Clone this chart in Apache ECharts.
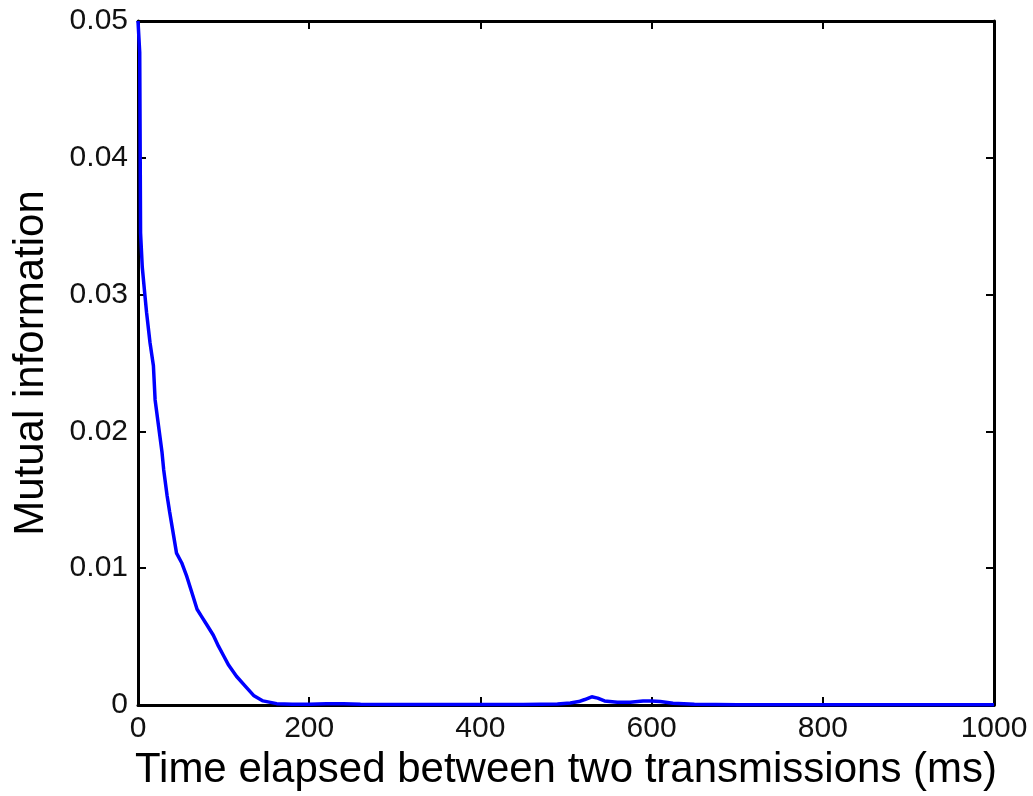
<!DOCTYPE html>
<html>
<head>
<meta charset="utf-8">
<title>Mutual information vs. time elapsed</title>
<script src="https://cdn.jsdelivr.net/npm/echarts@6/dist/echarts.min.js"></script>
<style>
  html, body { margin: 0; padding: 0; background: #fff; }
  #chart { width: 1033px; height: 796px; }
</style>
</head>
<body>
<div id="chart"></div>
<script>
// Time elapsed between two transmissions (ms)
const elapsedMs = [
  0, 2, 3, 5, 8, 10, 14, 18, 20, 24, 28, 30, 34, 37, 41, 45, 51, 57, 63, 69,
  74, 80, 88, 94, 100, 106, 115, 125, 135, 146, 162, 180, 200, 220, 240, 260,
  300, 350, 400, 450, 490, 505, 515, 522, 530, 537, 545, 560, 575, 590, 600,
  610, 625, 650, 700, 800, 900, 1000
];
// Mutual information at each elapsed time
const mutualInfo = [
  0.0500, 0.0477, 0.0345, 0.0320, 0.0300, 0.0287, 0.0265, 0.0248, 0.0223, 0.0204,
  0.0185, 0.0172, 0.0153, 0.0141, 0.0126, 0.0111, 0.0104, 0.0094, 0.0082, 0.0070,
  0.0065, 0.0059, 0.0051, 0.0043, 0.0036, 0.0029, 0.0021, 0.0014, 0.0007, 0.0003,
  0.0001, 0.00005, 0.00006, 0.0001, 0.0001, 0.00006, 0.00004, 0.00003, 0.00003,
  0.00004, 0.00008, 0.00015, 0.00025, 0.0004, 0.0006, 0.0005, 0.0003, 0.0002,
  0.0002, 0.0003, 0.0003, 0.00025, 0.00012, 0.00006, 0.00002, 0.00001, 0.00001,
  0.00001
];
const xTicks = [0, 200, 400, 600, 800, 1000];
const yTickLabels = ['0', '0.01', '0.02', '0.03', '0.04', '0.05'];

const FONT = '"Liberation Sans", Arial, Helvetica, sans-serif';
const points = elapsedMs.map((t, i) => [t, mutualInfo[i]]);

// Fresh style objects per axis so the box frame lines stay on their own edges
const frameLine = () => ({ show: true, onZero: false, lineStyle: { color: '#000', width: 3 } });
const innerTick = () => ({ show: true, inside: true, length: 8, lineStyle: { color: '#000', width: 2 } });

const chart = echarts.init(document.getElementById('chart'), null, { renderer: 'canvas' });
chart.setOption({
  animation: false,
  backgroundColor: '#fff',
  grid: { left: 138, right: 39, top: 21, bottom: 90, containLabel: false },
  xAxis: [
    {
      type: 'value', position: 'bottom', min: 0, max: 1000, interval: 200,
      axisLine: frameLine(), axisTick: innerTick(), splitLine: { show: false },
      axisLabel: {
        color: '#111', fontFamily: FONT, fontSize: 30, margin: 9,
        formatter: v => (xTicks.includes(v) ? String(v) : '')
      },
      name: 'Time elapsed between two transmissions (ms)',
      nameLocation: 'middle', nameGap: 44,
      nameTextStyle: { color: '#000', fontFamily: FONT, fontSize: 42 }
    },
    {
      type: 'value', position: 'top', min: 0, max: 1000, interval: 200,
      axisLine: frameLine(), axisTick: innerTick(), axisLabel: { show: false },
      splitLine: { show: false }
    }
  ],
  yAxis: [
    {
      type: 'value', position: 'left', min: 0, max: 0.05, interval: 0.01,
      axisLine: frameLine(), axisTick: innerTick(), splitLine: { show: false },
      axisLabel: {
        color: '#111', fontFamily: FONT, fontSize: 30, margin: 10,
        formatter: v => yTickLabels[Math.round(v / 0.01)] ?? ''
      },
      name: 'Mutual information',
      nameLocation: 'middle', nameGap: 86,
      nameTextStyle: { color: '#000', fontFamily: FONT, fontSize: 42 }
    },
    {
      type: 'value', position: 'right', min: 0, max: 0.05, interval: 0.01,
      axisLine: frameLine(), axisTick: innerTick(), axisLabel: { show: false },
      splitLine: { show: false }
    }
  ],
  series: [
    {
      type: 'line',
      data: points,
      xAxisIndex: 0, yAxisIndex: 0,
      showSymbol: false,
      smooth: false,
      clip: true,
      lineStyle: { color: '#0000ff', width: 3.5 },
      z: 1
    }
  ]
});
</script>
</body>
</html>
